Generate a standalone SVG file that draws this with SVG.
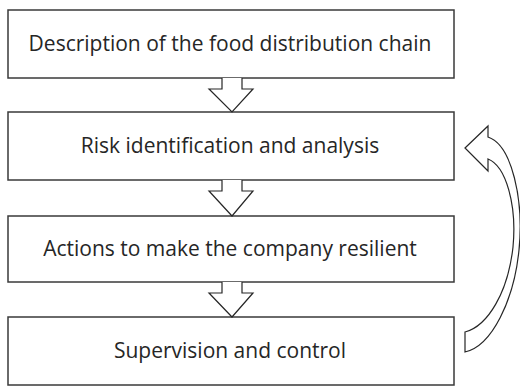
<svg xmlns="http://www.w3.org/2000/svg" width="520" height="386" viewBox="0 0 520 386">
  <style>
    .box { fill: #ffffff; stroke: #3a3a3a; stroke-width: 1.5; }
    .label { font-family: "Open Sans", "Noto Sans", sans-serif; font-size: 21px; fill: #262626; text-anchor: middle; }
    .arrow { fill: #ffffff; stroke: #262626; stroke-width: 1.2; stroke-linejoin: miter; }
  </style>
  <rect width="520" height="386" fill="#ffffff"/>

  <g id="step-description">
    <rect class="box" x="8" y="10" width="446" height="68"/>
    <text class="label" x="230" y="51">Description of the food distribution chain</text>
  </g>

  <g id="step-risk">
    <rect class="box" x="8" y="112" width="446" height="68"/>
    <text class="label" x="230" y="153">Risk identification and analysis</text>
  </g>

  <g id="step-actions">
    <rect class="box" x="8" y="216" width="446" height="66"/>
    <text class="label" x="230" y="256">Actions to make the company resilient</text>
  </g>

  <g id="step-supervision">
    <rect class="box" x="8" y="317" width="446" height="68"/>
    <text class="label" x="230" y="358">Supervision and control</text>
  </g>

  <g id="connectors">
    <!-- block arrows between consecutive steps -->
    <path class="arrow" d="M222,78 L222,89 L209,89 L232,112 L253,89 L242,89 L242,78"/>
    <path class="arrow" d="M222,180 L222,191 L209,191 L232,216 L253,191 L242,191 L242,180"/>
    <path class="arrow" d="M222,282 L222,293 L209,293 L232,317 L253,293 L242,293 L242,282"/>
    <!-- curved feedback arrow from supervision back to risk analysis -->
    <path class="arrow" d="M465,148 L488,126 L488,137 C512,145 524,200 519,250 C514,300 492,346 465,352 L465,332 C488,326 508,292 513,247 C517,205 506,166 488,159 L488,171 Z"/>
  </g>
</svg>
